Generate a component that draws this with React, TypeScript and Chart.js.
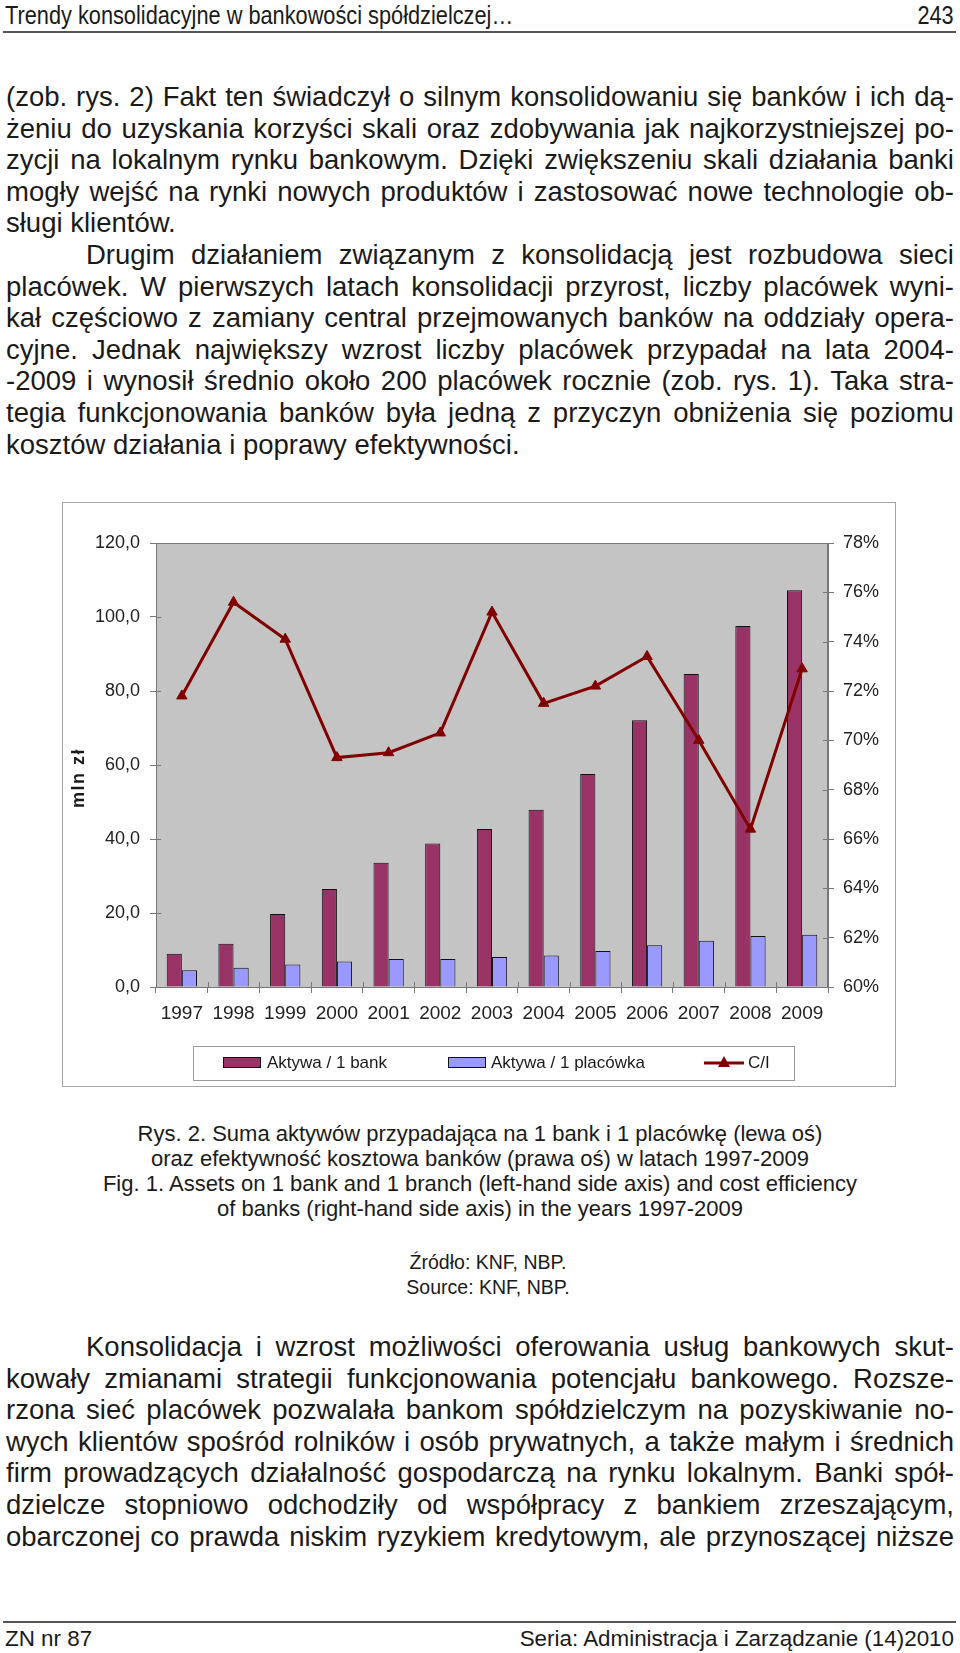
import React, { useEffect, useRef } from "react";
import { Chart, registerables } from "chart.js";
Chart.register(...registerables);

// ---------- data ----------
const years = ["1997", "1998", "1999", "2000", "2001", "2002", "2003", "2004", "2005", "2006", "2007", "2008", "2009"];
const assetsPerBank = [9.0, 11.7, 19.7, 26.5, 33.6, 38.8, 42.7, 47.9, 57.6, 72.1, 84.6, 97.6, 107.2];
const assetsPerBranch = [4.5, 5.2, 6.1, 6.9, 7.6, 7.6, 8.1, 8.5, 9.7, 11.3, 12.5, 13.8, 14.1];
const costIncome = [71.8, 75.6, 74.1, 69.3, 69.5, 70.3, 75.2, 71.5, 72.2, 73.4, 70.0, 66.4, 72.9];
const leftTicks = [0, 20, 40, 60, 80, 100, 120];
const rightTicks = [60, 62, 64, 66, 68, 70, 72, 74, 76, 78];
const seriesLabels = ["Aktywa / 1 bank", "Aktywa / 1 placówka", "C/I"];

const FONT = '"Liberation Sans", Arial, sans-serif';

const C_BANK = "#993366";
const C_BRANCH = "#9999ff";
const C_CI = "#800000";

// ---------- page text ----------
type Line = { t: string; last?: boolean; indent?: boolean };
const topLines: Line[] = [
  { t: "(zob. rys. 2) Fakt ten świadczył o silnym konsolidowaniu się banków i ich dą-" },
  { t: "żeniu do uzyskania korzyści skali oraz zdobywania jak najkorzystniejszej po-" },
  { t: "zycji na lokalnym rynku bankowym. Dzięki zwiększeniu skali działania banki" },
  { t: "mogły wejść na rynki nowych produktów i zastosować nowe technologie ob-" },
  { t: "sługi klientów.", last: true },
  { t: "Drugim działaniem związanym z konsolidacją jest rozbudowa sieci", indent: true },
  { t: "placówek. W pierwszych latach konsolidacji przyrost, liczby placówek wyni-" },
  { t: "kał częściowo z zamiany central przejmowanych banków na oddziały opera-" },
  { t: "cyjne. Jednak największy wzrost liczby placówek przypadał na lata 2004-" },
  { t: "-2009 i wynosił średnio około 200 placówek rocznie (zob. rys. 1). Taka stra-" },
  { t: "tegia funkcjonowania banków była jedną z przyczyn obniżenia się poziomu" },
  { t: "kosztów działania i poprawy efektywności.", last: true },
];
const bottomLines: Line[] = [
  { t: "Konsolidacja i wzrost możliwości oferowania usług bankowych skut-", indent: true },
  { t: "kowały zmianami strategii funkcjonowania potencjału bankowego. Rozsze-" },
  { t: "rzona sieć placówek pozwalała bankom spółdzielczym na pozyskiwanie no-" },
  { t: "wych klientów spośród rolników i osób prywatnych, a także małym i średnich" },
  { t: "firm prowadzących działalność gospodarczą na rynku lokalnym. Banki spół-" },
  { t: "dzielcze stopniowo odchodziły od współpracy z bankiem zrzeszającym," },
  { t: "obarczonej co prawda niskim ryzykiem kredytowym, ale przynoszącej niższe" },
];
const captionLines = [
  "Rys. 2. Suma aktywów przypadająca na 1 bank i 1 placówkę (lewa oś)",
  "oraz efektywność kosztowa banków (prawa oś) w latach 1997-2009",
  "Fig. 1. Assets on 1 bank and 1 branch (left-hand side axis) and cost efficiency",
  "of banks (right-hand side axis) in the years 1997-2009",
];
const sourceLines = ["Źródło: KNF, NBP.", "Source: KNF, NBP."];

const LINE_H = 31.6;
const BODY_SIZE = 27.5;

function TextBlock({ lines, top }: { lines: Line[]; top: number }) {
  return (
    <>
      {lines.map((l, i) => {
        const base: React.CSSProperties = {
          position: "absolute",
          left: 6,
          width: 948,
          top: top + i * LINE_H,
          height: LINE_H,
          lineHeight: LINE_H + "px",
          fontSize: BODY_SIZE,
          whiteSpace: "nowrap",
          boxSizing: "border-box",
          paddingLeft: l.indent ? 80 : 0,
        };
        if (l.last) {
          return (
            <div key={i} style={base}>
              {l.t}
            </div>
          );
        }
        const words = l.t.split(" ");
        return (
          <div key={i} style={{ ...base, display: "flex", justifyContent: "space-between" }}>
            {words.map((w, j) => (
              <span key={j} style={{ flex: "0 0 auto" }}>
                {w}
              </span>
            ))}
          </div>
        );
      })}
    </>
  );
}

// ---------- chart plugins ----------
const framePlugin = {
  id: "plotFrame",
  beforeDraw(chart: any) {
    const { ctx, chartArea: a } = chart;
    ctx.save();
    ctx.fillStyle = "#c4c4c4";
    ctx.fillRect(a.left, a.top, a.right - a.left, a.bottom - a.top);
    ctx.restore();
  },
  beforeDatasetsDraw(chart: any) {
    const { ctx, chartArea: a, scales } = chart;
    ctx.save();
    ctx.strokeStyle = "#777";
    ctx.lineWidth = 1;
    ctx.strokeRect(a.left + 0.5, a.top + 0.5, a.right - a.left - 1, a.bottom - a.top);
    ctx.beginPath();
    scales.y.ticks.forEach((_t: any, i: number) => {
      const y = Math.round(scales.y.getPixelForTick(i)) + 0.5;
      ctx.moveTo(a.left, y);
      ctx.lineTo(a.left + 5, y);
    });
    scales.y1.ticks.forEach((_t: any, i: number) => {
      const y = Math.round(scales.y1.getPixelForTick(i)) + 0.5;
      ctx.moveTo(a.right, y);
      ctx.lineTo(a.right - 5, y);
    });
    const n = scales.x.ticks.length;
    for (let i = 0; i <= n; i++) {
      const x = Math.round(a.left + ((a.right - a.left) * i) / n) + 0.5;
      ctx.moveTo(x, a.bottom);
      ctx.lineTo(x, a.bottom - 5);
    }
    ctx.stroke();
    ctx.restore();
  },
};

const legendPlugin = {
  id: "boxLegend",
  afterDraw(chart: any) {
    const { ctx } = chart;
    const ds = chart.data.datasets;
    const bx = 131, by = 544, bw = 601, bh = 34;
    const cy = by + bh / 2;
    ctx.save();
    ctx.strokeStyle = "#9a9a9a";
    ctx.lineWidth = 1;
    ctx.strokeRect(bx + 0.5, by + 0.5, bw, bh);
    ctx.font = `17px ${FONT}`;
    ctx.textBaseline = "middle";
    const swatch = (x: number, color: string) => {
      ctx.fillStyle = color;
      ctx.fillRect(x, cy - 6, 38, 11);
      ctx.strokeStyle = "#111";
      ctx.lineWidth = 1;
      ctx.strokeRect(x + 0.5, cy - 5.5, 37, 10);
    };
    swatch(161, ds[0].backgroundColor);
    ctx.fillStyle = "#1a1a1a";
    ctx.fillText(ds[0].label, 205, cy);
    swatch(386, ds[1].backgroundColor);
    ctx.fillStyle = "#1a1a1a";
    ctx.fillText(ds[1].label, 429, cy);
    ctx.strokeStyle = ds[2].borderColor;
    ctx.lineWidth = 3;
    ctx.beginPath();
    ctx.moveTo(642, cy);
    ctx.lineTo(682, cy);
    ctx.stroke();
    ctx.fillStyle = ds[2].borderColor;
    ctx.beginPath();
    ctx.moveTo(662, cy - 7);
    ctx.lineTo(668, cy + 4);
    ctx.lineTo(656, cy + 4);
    ctx.closePath();
    ctx.fill();
    ctx.fillStyle = "#1a1a1a";
    ctx.fillText(ds[2].label, 686, cy);
    ctx.restore();
  },
};

function ChartBox() {
  const ref = useRef<HTMLCanvasElement>(null);
  useEffect(() => {
    if (!ref.current) return;
    const axisColor = "#777";
    const chart = new Chart(ref.current, {
      type: "bar",
      data: {
        labels: years,
        datasets: [
          {
            type: "bar",
            label: seriesLabels[0],
            data: assetsPerBank,
            backgroundColor: C_BANK,
            borderColor: "#111",
            borderWidth: 1,
            yAxisID: "y",
            order: 2,
            categoryPercentage: 0.586,
            barPercentage: 1.0,
          },
          {
            type: "bar",
            label: seriesLabels[1],
            data: assetsPerBranch,
            backgroundColor: C_BRANCH,
            borderColor: "#111",
            borderWidth: 1,
            yAxisID: "y",
            order: 2,
            categoryPercentage: 0.586,
            barPercentage: 1.0,
          },
          {
            type: "line",
            label: seriesLabels[2],
            data: costIncome,
            borderColor: C_CI,
            backgroundColor: C_CI,
            borderWidth: 3,
            pointStyle: "triangle",
            pointRadius: 6,
            pointBorderWidth: 1,
            pointBackgroundColor: C_CI,
            pointBorderColor: C_CI,
            tension: 0,
            yAxisID: "y1",
            order: 0,
          },
        ] as any,
      },
      options: {
        animation: false,
        responsive: false,
        maintainAspectRatio: false,
        layout: { padding: { top: 41, left: 0, right: 0, bottom: 0 } },
        plugins: { legend: { display: false }, tooltip: { enabled: false }, title: { display: false } },
        scales: {
          x: {
            grid: { display: true, drawOnChartArea: false, drawTicks: true, tickLength: 6, color: axisColor, offset: true },
            border: { display: true, color: axisColor },
            ticks: { font: { size: 19, family: FONT }, color: "#222", padding: 9, maxRotation: 0, autoSkip: false },
            afterFit: (s: any) => { s.height = 99; },
          },
          y: {
            position: "left",
            min: 0,
            max: 120,
            afterBuildTicks: (s: any) => { s.ticks = leftTicks.map((v) => ({ value: v })); },
            ticks: {
              font: { size: 18, family: FONT },
              color: "#222",
              padding: 10,
              callback: (v: any) => Number(v).toFixed(1).replace(".", ","),
            },
            grid: { drawOnChartArea: false, drawTicks: true, tickLength: 6, color: axisColor },
            border: { display: true, color: axisColor },
            afterFit: (s: any) => { s.width = 94; },
          },
          y1: {
            position: "right",
            min: 60,
            max: 78,
            afterBuildTicks: (s: any) => { s.ticks = rightTicks.map((v) => ({ value: v })); },
            ticks: {
              font: { size: 18, family: FONT },
              color: "#222",
              padding: 9,
              callback: (v: any) => `${v}%`,
            },
            grid: { drawOnChartArea: false, drawTicks: true, tickLength: 6, color: axisColor },
            border: { display: true, color: axisColor },
            afterFit: (s: any) => { s.width = 67; },
          },
        },
      } as any,
      plugins: [framePlugin, legendPlugin],
    });
    return () => chart.destroy();
  }, []);
  return (
    <>
      <canvas
        ref={ref}
        width={833}
        height={584}
        style={{ position: "absolute", left: 62, top: 502, width: 833, height: 584 }}
      />
      <div
        style={{
          position: "absolute",
          left: 62,
          top: 502,
          width: 834,
          height: 585,
          border: "1.5px solid #a5a5a5",
          boxSizing: "border-box",
          pointerEvents: "none",
        }}
      />
      <div
        style={{
          position: "absolute",
          left: 78,
          top: 778,
          transform: "translate(-50%, -50%) rotate(-90deg)",
          fontFamily: FONT,
          fontWeight: "bold",
          fontSize: 18,
          letterSpacing: 1.5,
          whiteSpace: "nowrap",
          color: "#1a1a1a",
        }}
      >
        mln zł
      </div>
    </>
  );
}

export default function App() {
  return (
    <div
      style={{
        position: "absolute",
        left: 0,
        top: 0,
        width: 960,
        height: 1653,
        background: "#fff",
        fontFamily: FONT,
        color: "#1a1a1a",
        overflow: "hidden",
      }}
    >
      {/* header */}
      <div
        style={{
          position: "absolute",
          left: 5,
          top: 1,
          fontSize: 25,
          lineHeight: "28px",
          whiteSpace: "nowrap",
          transform: "scaleX(0.87)",
          transformOrigin: "left center",
        }}
      >
        Trendy konsolidacyjne w bankowości spółdzielczej…
      </div>
      <div
        style={{
          position: "absolute",
          right: 6,
          top: 1,
          fontSize: 25,
          lineHeight: "28px",
          transform: "scaleX(0.87)",
          transformOrigin: "right center",
        }}
      >
        243
      </div>
      <div style={{ position: "absolute", left: 3, top: 31, width: 953, height: 2, background: "#555" }} />

      <TextBlock lines={topLines} top={81} />

      <ChartBox />

      {/* caption */}
      {captionLines.map((c, i) => (
        <div
          key={"c" + i}
          style={{ position: "absolute", left: 0, width: 960, top: 1120.5 + i * 25.3, lineHeight: "25.3px", fontSize: 22, textAlign: "center", whiteSpace: "nowrap" }}
        >
          {c}
        </div>
      ))}
      {sourceLines.map((c, i) => (
        <div
          key={"s" + i}
          style={{ position: "absolute", left: 8, width: 960, top: 1249.5 + i * 25.3, lineHeight: "25.3px", fontSize: 19.5, textAlign: "center", whiteSpace: "nowrap" }}
        >
          {c}
        </div>
      ))}

      <TextBlock lines={bottomLines} top={1331} />

      {/* footer */}
      <div style={{ position: "absolute", left: 3, top: 1621, width: 953, height: 2, background: "#555" }} />
      <div style={{ position: "absolute", left: 5, top: 1626, fontSize: 22.4, lineHeight: "26px", whiteSpace: "nowrap" }}>
        ZN nr 87
      </div>
      <div style={{ position: "absolute", right: 6, top: 1626, fontSize: 22.4, lineHeight: "26px", whiteSpace: "nowrap" }}>
        Seria: Administracja i Zarządzanie (14)2010
      </div>
    </div>
  );
}
